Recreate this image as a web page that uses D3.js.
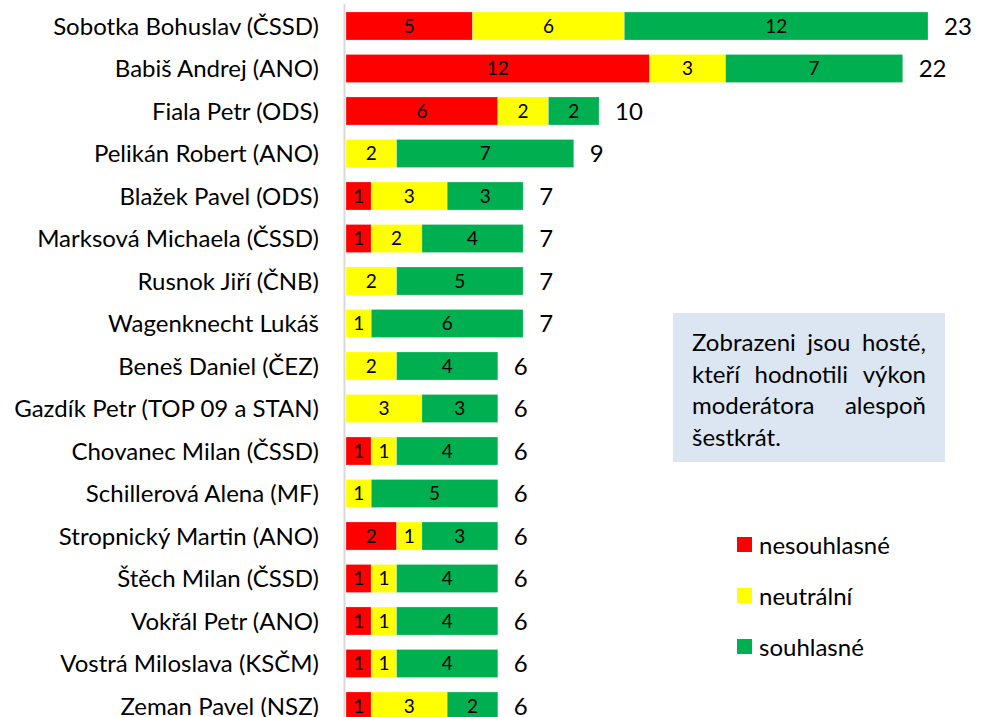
<!DOCTYPE html>
<html>
<head>
<meta charset="utf-8">
<script src="https://cdn.jsdelivr.net/npm/d3@7"></script>
<style>
  body { margin: 0; background: #fff; }
  svg { display: block; font-family: Lato, "Open Sans", sans-serif; }
</style>
</head>
<body>
<script>
// guests and their ratings of the moderator
const guests = [
  "Sobotka Bohuslav (ČSSD)", "Babiš Andrej (ANO)", "Fiala Petr (ODS)", "Pelikán Robert (ANO)",
  "Blažek Pavel (ODS)", "Marksová Michaela (ČSSD)", "Rusnok Jiří (ČNB)", "Wagenknecht Lukáš",
  "Beneš Daniel (ČEZ)", "Gazdík Petr (TOP 09 a STAN)", "Chovanec Milan (ČSSD)", "Schillerová Alena (MF)",
  "Stropnický Martin (ANO)", "Štěch Milan (ČSSD)", "Vokřál Petr (ANO)", "Vostrá Miloslava (KSČM)",
  "Zeman Pavel (NSZ)"
];
const nesouhlasne = [5, 12, 6, 0, 1, 1, 0, 0, 0, 0, 1, 0, 2, 1, 1, 1, 1];
const neutralni   = [6, 3, 2, 2, 3, 2, 2, 1, 2, 3, 1, 1, 1, 1, 1, 1, 3];
const souhlasne   = [12, 7, 2, 7, 3, 4, 5, 6, 4, 3, 4, 5, 3, 4, 4, 4, 2];

const seriesNames = ["nesouhlasné", "neutrální", "souhlasné"];
const seriesColors = ["#ff0000", "#ffff00", "#00b050"];

const width = 987, height = 717;

const svg = d3.select("body").append("svg")
    .attr("width", width)
    .attr("height", height);

const rows = guests.map((name, i) => ({
    name,
    vals: [nesouhlasne[i], neutralni[i], souhlasne[i]]
}));

const keys = [0, 1, 2];
const stacked = d3.stack()
    .keys(keys)
    .value((d, k) => d.vals[k])(rows);

const x = d3.scaleLinear()
    .domain([0, 23])
    .range([346, 928]);

const y = d3.scaleBand()
    .domain(guests)
    .range([4.75, 727.25])
    .paddingInner(0.34)
    .paddingOuter(0.17);

// category axis line
svg.append("line")
    .attr("x1", 344.5).attr("x2", 344.5)
    .attr("y1", 4).attr("y2", height)
    .attr("stroke", "#d9d9d9")
    .attr("stroke-width", 2);

// stacked segments
const layer = svg.append("g")
    .selectAll("g")
    .data(stacked)
    .join("g")
    .attr("fill", d => seriesColors[d.key]);

layer.selectAll("rect")
    .data(d => d.map(s => ({ s, key: d.key })))
    .join("rect")
    .attr("x", d => x(d.s[0]))
    .attr("y", d => y(d.s.data.name))
    .attr("width", d => x(d.s[1]) - x(d.s[0]))
    .attr("height", y.bandwidth())
    .attr("stroke", "#fff")
    .attr("stroke-opacity", 0.25)
    .attr("stroke-width", 1);

// value labels inside segments
layer.selectAll("text")
    .data(d => d.map(s => ({ s, key: d.key })).filter(d => d.s[1] - d.s[0] > 0))
    .join("text")
    .attr("x", d => (x(d.s[0]) + x(d.s[1])) / 2)
    .attr("y", d => y(d.s.data.name) + y.bandwidth() / 2)
    .attr("dy", "0.36em")
    .attr("text-anchor", "middle")
    .attr("fill", "#000")
    .style("font-size", "19px")
    .text(d => d.s[1] - d.s[0]);

// totals
svg.append("g")
    .selectAll("text")
    .data(rows)
    .join("text")
    .attr("x", d => x(d3.sum(d.vals)) + 16)
    .attr("y", d => y(d.name) + y.bandwidth() / 2)
    .attr("dy", "0.36em")
    .attr("fill", "#000")
    .style("font-size", "24px")
    .text(d => d3.sum(d.vals));

// guest names
svg.append("g")
    .selectAll("text")
    .data(guests)
    .join("text")
    .attr("x", 319)
    .attr("y", d => y(d) + y.bandwidth() / 2)
    .attr("dy", "0.36em")
    .attr("text-anchor", "end")
    .attr("fill", "#000")
    .style("font-size", "24px")
    .text(d => d);

// note box
const box = { x: 673, y: 313, w: 272, h: 149 };
svg.append("rect")
    .attr("x", box.x).attr("y", box.y)
    .attr("width", box.w).attr("height", box.h)
    .attr("fill", "#dce6f2");

// justified lines
const noteLines = [
    ["Zobrazeni", "jsou", "hosté,"],
    ["kteří", "hodnotili", "výkon"],
    ["moderátora", "alespoň"],
    ["šestkrát."]
];
const lineLeft = 692, lineRight = 926;
const note = svg.append("g").style("font-size", "24px").attr("fill", "#000");
noteLines.forEach((words, li) => {
    const ly = 351 + li * 31.5;
    const tmp = words.map(w => note.append("text").attr("y", ly).text(w));
    const widths = tmp.map(t => t.node().getComputedTextLength());
    const last = li === noteLines.length - 1;
    const gap = (!last && words.length > 1)
        ? (lineRight - lineLeft - d3.sum(widths)) / (words.length - 1)
        : 6;
    let cx = lineLeft;
    tmp.forEach((t, i) => {
        t.attr("x", cx);
        cx += widths[i] + gap;
    });
});

// legend
const legend = svg.append("g")
    .selectAll("g")
    .data(seriesNames)
    .join("g")
    .attr("transform", (d, i) => `translate(737,${537 + i * 51})`);

legend.append("rect")
    .attr("width", 15).attr("height", 15)
    .attr("fill", (d, i) => seriesColors[i]);

legend.append("text")
    .attr("x", 22)
    .attr("y", 8)
    .attr("dy", "0.36em")
    .style("font-size", "24px")
    .attr("fill", "#000")
    .text(d => d);
</script>
</body>
</html>
